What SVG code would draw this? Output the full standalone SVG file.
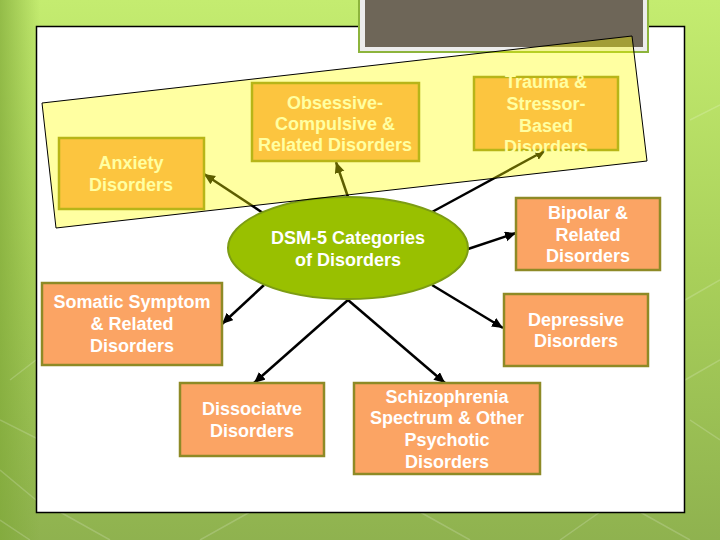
<svg xmlns="http://www.w3.org/2000/svg" width="720" height="540" viewBox="0 0 720 540">
<defs>
<linearGradient id="bg" x1="0" y1="0" x2="0" y2="1">
<stop offset="0" stop-color="#c4ec70"/>
<stop offset="0.5" stop-color="#a9d05a"/>
<stop offset="1" stop-color="#8fb24f"/>
</linearGradient>
<linearGradient id="bgside" x1="0" y1="0" x2="1" y2="0">
<stop offset="0" stop-color="#7fa838" stop-opacity="0.7"/>
<stop offset="1" stop-color="#7fa838" stop-opacity="0"/>
</linearGradient>
<marker id="ah" markerUnits="userSpaceOnUse" markerWidth="14" markerHeight="12" refX="11" refY="5" orient="auto">
<path d="M0,0 L11,5 L0,10 z" fill="#000"/>
</marker>
</defs>
<style>
.box{fill:#fba464;stroke:#8e8a26;stroke-width:2.5}
.t{font-family:"Liberation Sans",Arial,sans-serif;font-weight:bold;font-size:18px;fill:#ffffff;text-anchor:middle}
.c{stroke:#000;stroke-width:2.5;fill:none;marker-end:url(#ah)}
.deco{stroke:#ffffff;stroke-opacity:0.18;stroke-width:1.5;fill:none}
</style>
<rect x="0" y="0" width="720" height="540" fill="url(#bg)"/>
<rect x="0" y="0" width="40" height="540" fill="url(#bgside)"/>
<g class="deco">
<path d="M0,420 L40,440 M0,470 L36,500 M10,380 L36,360 M0,520 L30,540"/>
<path d="M60,512 L110,540 M200,540 L250,512 M420,512 L470,540 M560,540 L600,512 M640,512 L690,540"/>
<path d="M685,380 L720,360 M685,300 L720,280 M690,420 L720,440"/>
<path d="M690,120 L720,105"/>
</g>
<rect x="36.5" y="26.5" width="648" height="486" fill="#ffffff" stroke="#000" stroke-width="1.5"/>
<rect x="358" y="-3" width="291" height="56" fill="#8db43c"/>
<rect x="360" y="-3" width="287" height="54" fill="#ececec"/>
<rect x="365" y="-3" width="278" height="50" fill="#6e6658"/>
<g id="connectors">
<line class="c" x1="263" y1="213" x2="204" y2="174"/>
<line class="c" x1="348" y1="197" x2="336" y2="162"/>
<line class="c" x1="432" y1="212" x2="546" y2="150"/>
<line class="c" x1="468" y1="249" x2="516" y2="233"/>
<line class="c" x1="432" y1="285" x2="503" y2="328"/>
<line class="c" x1="264" y1="285" x2="222" y2="324"/>
<line class="c" x1="348" y1="300" x2="254" y2="383"/>
<line class="c" x1="348" y1="300" x2="445" y2="383"/>
</g>
<g id="center">
<ellipse cx="348" cy="248" rx="120" ry="51" fill="#99c000" stroke="#7c9c14" stroke-width="2"/>
<text class="t" x="348" y="244">DSM-5 Categories</text>
<text class="t" x="348" y="266">of Disorders</text>
</g>
<g id="anxiety">
<rect class="box" x="59" y="138" width="145" height="71"/>
<text class="t" x="131" y="169">Anxiety</text>
<text class="t" x="131" y="191">Disorders</text>
</g>
<g id="ocd">
<rect class="box" x="252" y="83" width="167" height="78"/>
<text class="t" x="335" y="109">Obsessive-</text>
<text class="t" x="335" y="130">Compulsive &amp;</text>
<text class="t" x="335" y="151">Related Disorders</text>
</g>
<g id="trauma">
<rect class="box" x="474" y="77" width="144" height="73"/>
<text class="t" x="546" y="88">Trauma &amp;</text>
<text class="t" x="546" y="110">Stressor-</text>
<text class="t" x="546" y="132">Based</text>
<text class="t" x="546" y="153">Disorders</text>
</g>
<g id="bipolar">
<rect class="box" x="516" y="198" width="144" height="72"/>
<text class="t" x="588" y="219">Bipolar &amp;</text>
<text class="t" x="588" y="241">Related</text>
<text class="t" x="588" y="262">Disorders</text>
</g>
<g id="depressive">
<rect class="box" x="504" y="294" width="144" height="72"/>
<text class="t" x="576" y="326">Depressive</text>
<text class="t" x="576" y="347">Disorders</text>
</g>
<g id="somatic">
<rect class="box" x="42" y="283" width="180" height="82"/>
<text class="t" x="132" y="308">Somatic Symptom</text>
<text class="t" x="132" y="330">&amp; Related</text>
<text class="t" x="132" y="352">Disorders</text>
</g>
<g id="dissociative">
<rect class="box" x="180" y="383" width="144" height="73"/>
<text class="t" x="252" y="415">Dissociatve</text>
<text class="t" x="252" y="437">Disorders</text>
</g>
<g id="schizophrenia">
<rect class="box" x="354" y="383" width="186" height="91"/>
<text class="t" x="447" y="403">Schizophrenia</text>
<text class="t" x="447" y="424">Spectrum &amp; Other</text>
<text class="t" x="447" y="446">Psychotic</text>
<text class="t" x="447" y="468">Disorders</text>
</g>
<g id="highlight">
<polygon points="42,103 632,36 647,161 56,228" fill="#ffff00" fill-opacity="0.37" stroke="#000" stroke-width="1"/>
</g>
</svg>
